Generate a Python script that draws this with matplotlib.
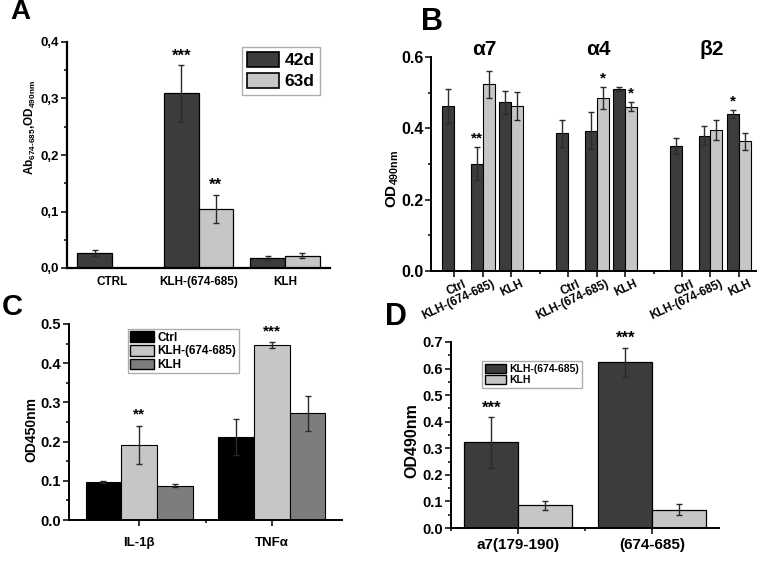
import numpy as np
import matplotlib
matplotlib.use("Agg")
import matplotlib.pyplot as plt
from matplotlib.ticker import MultipleLocator, FormatStrFormatter, FuncFormatter
from matplotlib.patches import Patch

plt.rcParams['font.family'] = ['Liberation Sans', 'DejaVu Sans']
plt.rcParams['font.weight'] = 'bold'
plt.rcParams['axes.labelweight'] = 'bold'
plt.rcParams['mathtext.fontset'] = 'custom'
plt.rcParams['mathtext.rm'] = 'Liberation Sans:bold'
plt.rcParams['mathtext.bf'] = 'Liberation Sans:bold'
plt.rcParams['mathtext.default'] = 'bf'

DARK = '#3c3c3c'
LIGHT = '#c6c6c6'
MID = '#7d7d7d'
ERR = '#2a2a2a'

# ---- panel A data
a_groups = ['CTRL', 'KLH-(674-685)', 'KLH']
a_42d = [0.027, 0.309, 0.018]
a_42d_err = [0.005, 0.050, 0.004]
a_63d = [np.nan, 0.105, 0.022]
a_63d_err = [np.nan, 0.025, 0.005]
a_stars_42d = ['', '***', '']
a_stars_63d = ['', '**', '']

# ---- panel B data
b_subunits = ['\u03b17', '\u03b14', '\u03b22']
b_groups = ['Ctrl', 'KLH-(674-685)', 'KLH']
# rows = subunit, cols = group
b_42d = [[0.463, 0.301, 0.473],
         [0.386, 0.393, 0.511],
         [0.351, 0.379, 0.441]]
b_42d_err = [[0.048, 0.046, 0.032],
             [0.037, 0.052, 0.005],
             [0.023, 0.027, 0.011]]
b_63d = [[np.nan, 0.523, 0.462],
         [np.nan, 0.486, 0.461],
         [np.nan, 0.396, 0.364]]
b_63d_err = [[np.nan, 0.037, 0.040],
             [np.nan, 0.031, 0.013],
             [np.nan, 0.028, 0.024]]
b_stars_42d = [['', '**', ''], ['', '', ''], ['', '', '*']]
b_stars_63d = [['', '', ''], ['', '*', '*'], ['', '', '']]

# ---- panel C data
c_cytokines = ['IL-1\u03b2', 'TNF\u03b1']
c_series = ['Ctrl', 'KLH-(674-685)', 'KLH']
c_ctrl = [0.097, 0.212]
c_ctrl_err = [0.002, 0.046]
c_klh674 = [0.192, 0.446]
c_klh674_err = [0.048, 0.007]
c_klh = [0.088, 0.272]
c_klh_err = [0.004, 0.044]
c_stars = ['**', '***']

# ---- panel D data
d_peptides = ['a7(179-190)', '(674-685)']
d_series = ['KLH-(674-685)', 'KLH']
d_klh674 = [0.322, 0.623]
d_klh674_err = [0.096, 0.056]
d_klh = [0.085, 0.069]
d_klh_err = [0.018, 0.021]
d_stars = ['***', '***']

W, H = 762, 566
fig = plt.figure(figsize=(W / 100, H / 100), dpi=100)


def px_axes(left, right, top, bottom):
    return fig.add_axes([left / W, (H - bottom) / H, (right - left) / W, (bottom - top) / H])


def style(ax, lw=1.4):
    for s in ['top', 'right']:
        ax.spines[s].set_visible(False)
    for s in ['left', 'bottom']:
        ax.spines[s].set_linewidth(lw)
    ax.tick_params(which='both', direction='out', width=1.1)
    ax.tick_params(which='major', length=4)
    ax.tick_params(which='minor', length=2)


def boldticks(ax):
    for t in ax.get_xticklabels() + ax.get_yticklabels():
        t.set_fontweight('bold')


def bars(ax, x, vals, errs, color, width, align='center', lw=0.9):
    x = np.asarray(x, dtype=float)
    ax.bar(x, vals, width=width, align=align, color=color, edgecolor='black', linewidth=lw, zorder=2)
    cx = x + width / 2 if align == 'edge' else x
    ax.errorbar(cx, vals, yerr=errs, fmt='none', ecolor=ERR, elinewidth=1, capsize=2, capthick=1, zorder=3)
    return cx


def stars(ax, cx, vals, errs, labels, size=11, dy=1):
    for x, v, e, s in zip(cx, vals, errs, labels):
        if s:
            ax.annotate(s, (x, v + e), xytext=(0, dy), textcoords='offset points',
                        ha='center', va='bottom', fontsize=size, fontweight='bold')


def legend(ax, handles, anchor, size, hl, pad=0.3, sp=0.15, hh=1.0):
    ax.legend(handles=handles, loc='upper left', bbox_to_anchor=anchor, borderaxespad=0,
              prop={'size': size, 'weight': 'bold'}, frameon=True, fancybox=False,
              edgecolor='#999999', handlelength=hl, handleheight=hh,
              handletextpad=0.3, borderpad=pad, labelspacing=sp)


# ================= A
axA = px_axes(67, 330, 42, 268)
style(axA, 1.6)
xa = np.arange(len(a_groups))
wa = 0.4
cx42 = bars(axA, xa - wa, a_42d, a_42d_err, DARK, wa, align='edge')
cx63 = bars(axA, xa, a_63d, a_63d_err, LIGHT, wa, align='edge')
stars(axA, cx42, a_42d, a_42d_err, a_stars_42d, 12)
stars(axA, cx63, a_63d, a_63d_err, a_stars_63d, 12)
axA.set_xlim(-0.52, 2.52)
axA.set_ylim(0, 0.4)
axA.set_xticks(xa)
axA.set_xticklabels(a_groups, fontsize=8.5)
axA.tick_params(axis='x', length=0, pad=6)
axA.yaxis.set_major_locator(MultipleLocator(0.1))
axA.yaxis.set_minor_locator(MultipleLocator(0.05))
axA.yaxis.set_major_formatter(FuncFormatter(lambda v, p: f'{v:.1f}'.replace('.', ',')))
axA.tick_params(axis='y', labelsize=9.5, pad=2)
axA.set_ylabel(r'Ab$_{674\text{-}685}$,OD$_{490nm}$', fontsize=8.5)
axA.yaxis.set_label_coords(-0.11, 0.62)
legend(axA, [Patch(facecolor=DARK, edgecolor='black', linewidth=1.2, label='42d'),
             Patch(facecolor=LIGHT, edgecolor='black', linewidth=1.2, label='63d')],
       (0.665, 0.98), 12.5, 1.85, pad=0.3, sp=0.25)
boldticks(axA)
fig.text(10 / W, 1 - 19 / H, 'A', fontsize=20, fontweight='bold')

# ================= B
axB = px_axes(431, 756, 57, 271)
style(axB, 1.4)
wb = 0.42
pos, labels = [], []
for g, sub in enumerate(b_subunits):
    xb = np.arange(len(b_groups)) + g * 4
    cxd = bars(axB, xb - wb, b_42d[g], b_42d_err[g], DARK, wb, align='edge', lw=0.8)
    cxl = bars(axB, xb, b_63d[g], b_63d_err[g], LIGHT, wb, align='edge', lw=0.8)
    stars(axB, cxd, b_42d[g], b_42d_err[g], b_stars_42d[g], 11)
    stars(axB, cxl, b_63d[g], b_63d_err[g], b_stars_63d[g], 11)
    axB.text(xb[1] + 0.05, 0.595, sub, ha='center', va='bottom', fontsize=15, fontweight='bold')
    pos += list(xb)
    labels += b_groups
axB.set_xlim(-0.82, 10.6)
axB.set_ylim(0, 0.6)
axB.set_xticks(pos)
axB.set_xticks([3, 7], minor=True)
axB.set_xticklabels([])
# rotated category labels, right end slightly past the tick
for p, lab in zip(pos, labels):
    axB.annotate(lab, (p, 0), xycoords=('data', 'axes fraction'), xytext=(10, -5),
                 textcoords='offset points', rotation=25, ha='right', va='top',
                 fontsize=8.5, fontweight='bold')
axB.yaxis.set_major_locator(MultipleLocator(0.2))
axB.yaxis.set_minor_locator(MultipleLocator(0.1))
axB.yaxis.set_major_formatter(FormatStrFormatter('%.1f'))
axB.tick_params(axis='y', labelsize=11.5, pad=1.5)
axB.set_ylabel(r'OD$_{490nm}$', fontsize=11)
axB.yaxis.set_label_coords(-0.092, 0.43)
boldticks(axB)
fig.text(421 / W, 1 - 30 / H, 'B', fontsize=22, fontweight='bold')

# ================= C
axC = px_axes(69, 342, 324, 520)
style(axC, 1.4)
xc = np.arange(len(c_cytokines))
wc = 0.27
bars(axC, xc - wc, c_ctrl, c_ctrl_err, 'black', wc, lw=0.8)
cxc = bars(axC, xc, c_klh674, c_klh674_err, LIGHT, wc, lw=0.8)
bars(axC, xc + wc, c_klh, c_klh_err, MID, wc, lw=0.8)
stars(axC, cxc, c_klh674, c_klh674_err, c_stars, 11, 3)
axC.set_xlim(-0.53, 1.53)
axC.set_ylim(0, 0.5)
axC.set_xticks(xc)
axC.set_xticks([0.5], minor=True)
axC.set_xticklabels(c_cytokines, fontsize=9.5)
axC.tick_params(axis='x', pad=8)
axC.yaxis.set_major_locator(MultipleLocator(0.1))
axC.yaxis.set_minor_locator(MultipleLocator(0.05))
axC.yaxis.set_major_formatter(FormatStrFormatter('%.1f'))
axC.tick_params(axis='y', labelsize=10.5, pad=2)
axC.set_ylabel('OD450nm', fontsize=10)
axC.yaxis.set_label_coords(-0.114, 0.46)
legend(axC, [Patch(facecolor=c, edgecolor='black', linewidth=1, label=l)
             for c, l in zip(['black', LIGHT, MID], c_series)],
       (0.216, 0.975), 8.5, 2.0, pad=0.2, sp=0.12)
boldticks(axC)
fig.text(2 / W, 1 - 315 / H, 'C', fontsize=21, fontweight='bold')

# ================= D
axD = px_axes(451, 719, 342, 528)
style(axD, 1.4)
xd = np.arange(len(d_peptides))
wd = 0.4
cxd = bars(axD, xd - wd, d_klh674, d_klh674_err, DARK, wd, align='edge')
bars(axD, xd, d_klh, d_klh_err, LIGHT, wd, align='edge')
stars(axD, cxd, d_klh674, d_klh674_err, d_stars, 12)
axD.set_xlim(-0.5, 1.5)
axD.set_ylim(0, 0.7)
axD.set_xticks(xd)
axD.set_xticks([-0.5, 0.5], minor=True)
axD.set_xticklabels(d_peptides, fontsize=11)
axD.yaxis.set_major_locator(MultipleLocator(0.1))
axD.yaxis.set_minor_locator(MultipleLocator(0.05))
axD.yaxis.set_major_formatter(FormatStrFormatter('%.1f'))
axD.tick_params(axis='y', labelsize=10.5, pad=2)
axD.set_ylabel('OD490nm', fontsize=11.5)
axD.yaxis.set_label_coords(-0.118, 0.468)
legend(axD, [Patch(facecolor=c, edgecolor='black', linewidth=1, label=l)
             for c, l in zip([DARK, LIGHT], d_series)],
       (0.116, 0.898), 7.5, 2.0, pad=0.3, sp=0.12, hh=0.9)
boldticks(axD)
fig.text(385 / W, 1 - 325 / H, 'D', fontsize=22, fontweight='bold')

fig.savefig('out.png', dpi=100)
